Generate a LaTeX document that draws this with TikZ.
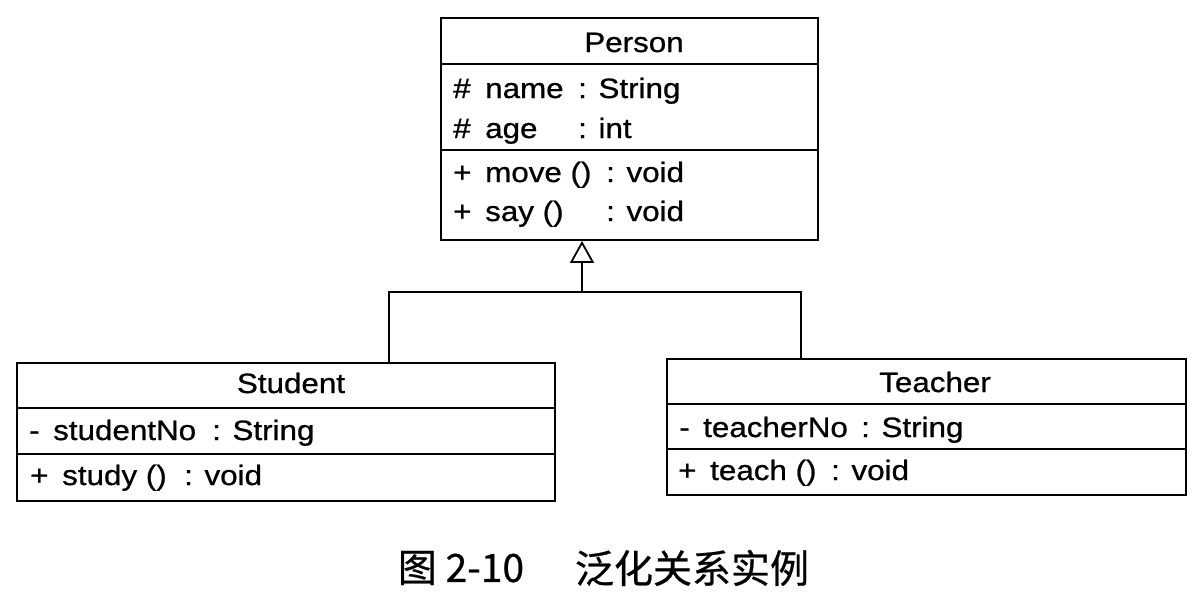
\documentclass[tikz,border=0pt]{standalone}
\usepackage{fontspec}
\usetikzlibrary{arrows.meta}
\newfontfamily\umlfont[FakeStretch=1.12, FakeBold=0.8]{Liberation Sans}
\newfontfamily\cjkfont[FakeBold=0.6]{Noto Sans CJK SC}
\begin{document}
\begin{tikzpicture}[x=1pt,y=-1pt,
  box/.style={draw, line width=1.8pt, rectangle, inner sep=0pt},
  sep/.style={line width=1.8pt},
  conn/.style={line width=1.8pt},
  txt/.style={anchor=base west, inner sep=0pt, font=\umlfont\fontsize{28}{30}\selectfont},
  ttl/.style={anchor=base, inner sep=0pt, font=\umlfont\fontsize{28}{30}\selectfont},
  captxt/.style={anchor=center, inner sep=0pt, font=\cjkfont\fontsize{39}{42}\selectfont}]
\useasboundingbox[fill=white] (0,0) rectangle (1200,600);

% Person
\node[box, minimum width=377pt, minimum height=222pt] (person) at (629.5,129) {};
\draw[sep] (person.west |- 0,64) -- (person.east |- 0,64);
\draw[sep] (person.west |- 0,150) -- (person.east |- 0,150);
\node[ttl] (ptitle) at (634,52) {Person};
\node[txt] (pn1) at (453,98) {\#};
\node[txt] (pn2) at (485,98) {name};
\node[txt] (pn3) at (578,98) {: String};
\node[txt] (pa1) at (453,138) {\#};
\node[txt] (pa2) at (485,138) {age};
\node[txt] (pa3) at (578,138) {: int};
\node[txt] (pm1) at (453,182) {+};
\node[txt] (pm2) at (485,182) {move ()};
\node[txt] (pm3) at (606,182) {: void};
\node[txt] (ps1) at (453,221) {+};
\node[txt] (ps2) at (485,221) {say ()};
\node[txt] (ps3) at (606,221) {: void};

% Student
\node[box, minimum width=538pt, minimum height=138pt] (student) at (286,432) {};
\draw[sep] (student.west |- 0,408) -- (student.east |- 0,408);
\draw[sep] (student.west |- 0,454) -- (student.east |- 0,454);
\node[ttl] (stitle) at (291,393) {Student};
\node[txt] (sa1) at (29,440) {-};
\node[txt] (sa2) at (53,440) {studentNo};
\node[txt] (sa3) at (212,440) {: String};
\node[txt] (sm1) at (30,485) {+};
\node[txt] (sm2) at (62,485) {study ()};
\node[txt] (sm3) at (184,485) {: void};

% Teacher
\node[box, minimum width=519pt, minimum height=136pt] (teacher) at (926.5,427) {};
\draw[sep] (teacher.west |- 0,404) -- (teacher.east |- 0,404);
\draw[sep] (teacher.west |- 0,449) -- (teacher.east |- 0,449);
\node[ttl] (ttitle) at (935,392) {Teacher};
\node[txt] (ta1) at (679,437) {-};
\node[txt] (ta2) at (703,437) {teacherNo};
\node[txt] (ta3) at (861,437) {: String};
\node[txt] (tm1) at (678,480) {+};
\node[txt] (tm2) at (710,480) {teach ()};
\node[txt] (tm3) at (831,480) {: void};

% Generalization
\coordinate (j) at (582,292);
\coordinate (sj) at (389,292);
\coordinate (tj) at (801,292);
\draw[conn] (sj |- student.north) -- (sj) -- (tj) -- (tj |- teacher.north);
\draw[conn, -{Triangle[open, length=22pt, width=24pt]}] (j) -- (j |- person.south);

% Caption
\node[captxt] (cap1) at (461,568) {图 2-10};
\node[captxt] (cap2) at (692,568) {泛化关系实例};
\end{tikzpicture}
\end{document}
